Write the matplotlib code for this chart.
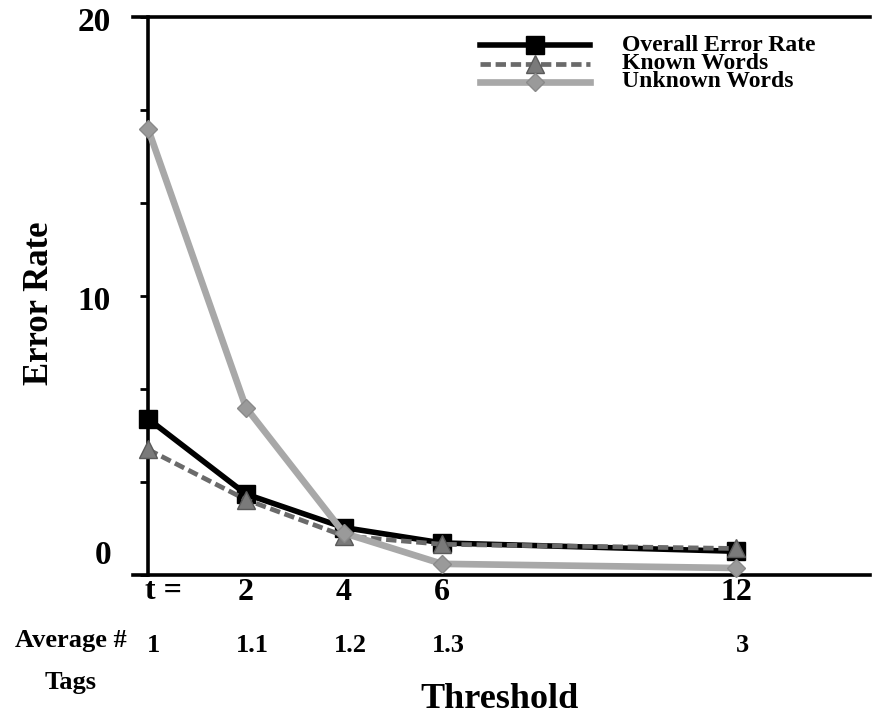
"""Error rate vs. tag-pruning threshold, redrawn from a scanned figure."""
import matplotlib

matplotlib.use("Agg")
import matplotlib.pyplot as plt  # noqa: E402
import numpy as np  # noqa: E402
from matplotlib.lines import Line2D  # noqa: E402
from matplotlib.transforms import ScaledTranslation  # noqa: E402

# --- data ------------------------------------------------------------------
thresholds = [1, 2, 4, 6, 12]
avg_tags = ["1", "1.1", "1.2", "1.3", "3"]
overall = [5.6, 2.9, 1.7, 1.15, 0.85]
known = [4.5, 2.7, 1.4, 1.1, 0.95]
unknown = [16.0, 6.0, 1.5, 0.4, 0.25]
series_names = ["Overall Error Rate", "Known Words", "Unknown Words"]
y_labels = [0, 10, 20]

W, H = 873, 725
plt.rcParams["font.family"] = ["Liberation Serif", "DejaVu Serif"]
plt.rcParams["font.weight"] = "bold"


def fx(px):
    return px / W


def fy(py):
    return 1 - py / H


# threshold axis in the original is not linear: t=1 sits one step left of t=2,
# from t=2 on it runs at t/2 steps
def fwd(t):
    t = np.asarray(t, dtype=float)
    return np.where(t < 2, t - 1, t / 2)


def inv(p):
    p = np.asarray(p, dtype=float)
    return np.where(p < 1, p + 1, 2 * p)


styles = [
    dict(color="black", lw=4.0, marker="s", ms=13, mfc="black", mec="black", zorder=3),
    dict(color="#6a6a6a", lw=3.4, ls=(0, (2.2, 1.0)), marker="^", ms=13,
         mfc="#7a7a7a", mec="#5a5a5a", zorder=4),
    dict(color="#a8a8a8", lw=4.8, marker="D", ms=9, mfc="#9a9a9a",
         mec="#8a8a8a", zorder=5),
]

fig = plt.figure(figsize=(W / 100, H / 100), dpi=100)
ax = fig.add_axes([fx(133), fy(575), fx(870) - fx(133), fy(17) - fy(575)])
ax.set_xscale("function", functions=(fwd, inv))

for ys, st in zip([overall, known, unknown], styles):
    ax.plot(thresholds, ys, clip_on=False, **st)

ax.set_xlim(inv(-0.153), inv(7.367))
ax.set_ylim(0, 20)

for s in ("top", "bottom", "left"):
    ax.spines[s].set_linewidth(2.6)
ax.spines["right"].set_visible(False)
ax.spines["left"].set_position(("data", thresholds[0]))

# y ticks every third of ten, labels drawn as text (the "0" sits high)
ax.set_yticks(np.linspace(0, 20, 7))
ax.set_yticklabels([])
ax.tick_params(axis="y", direction="out", length=6, width=2)
ytr = ax.get_yaxis_transform()
for v in y_labels:
    dy = 0.7 if v == 0 else -0.2
    ax.text(-0.03, v + dy, str(v), transform=ytr, ha="right", va="center",
            fontsize=24, fontweight="bold")

ax.set_xticks(thresholds[1:])
ax.set_xticklabels([str(t) for t in thresholds[1:]], fontsize=23,
                   fontweight="bold")
ax.tick_params(axis="x", length=0, pad=2)
xtr = ax.get_xaxis_transform()
ax.text(1.16, -0.03, "t =", transform=xtr, ha="center", va="center",
        fontsize=23, fontweight="bold")

# second row: average number of tags per word
shift = xtr + ScaledTranslation(6 / 100, 0, fig.dpi_scale_trans)
for t, lab in zip(thresholds, avg_tags):
    ax.text(t, -0.127, lab, transform=shift, ha="center", va="center",
            fontsize=19, fontweight="bold")
fig.text(fx(127), fy(641), "Average #", ha="right", va="center", fontsize=19)
fig.text(fx(71), fy(683), "Tags", ha="center", va="center", fontsize=19)

fig.text(fx(500), fy(700), "Threshold", ha="center", va="center", fontsize=26)
fig.text(fx(40), fy(303), "Error Rate", ha="center", va="center",
         rotation=90, fontsize=25)

# hand-built legend, rows packed as tight as in the scan
row_px = 18.5
for i, st in enumerate(styles):
    yy = fy(45 + row_px * i)
    line_kw = {k: v for k, v in st.items() if k in ("color", "lw", "ls")}
    fig.add_artist(Line2D([fx(480), fx(590)], [yy, yy], **line_kw))
    mk_kw = {k: v for k, v in st.items() if k in ("marker", "ms", "mfc", "mec")}
    fig.add_artist(Line2D([fx(535)], [yy], ls="none", **mk_kw))
fig.text(fx(622), fy(45 + row_px), "\n".join(series_names), ha="left",
         va="center", fontsize=17, linespacing=0.84)

fig.savefig("out.png", dpi=100)
